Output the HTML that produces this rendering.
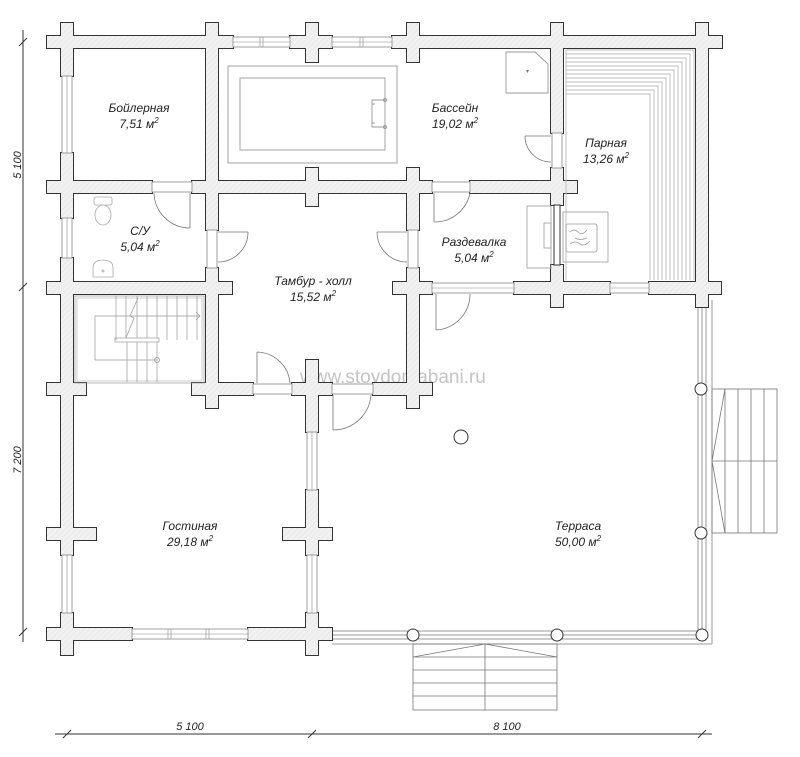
<!DOCTYPE html>
<html><head><meta charset="utf-8"><style>
html,body{margin:0;padding:0;background:#fff;}
svg{display:block;}
text{font-family:"Liberation Sans",sans-serif;font-style:italic;font-size:12px;fill:#222;}
</style></head><body>
<svg width="800" height="757" viewBox="0 0 800 757" xmlns="http://www.w3.org/2000/svg">
<defs>
<pattern id="h" width="4" height="4" patternUnits="userSpaceOnUse" patternTransform="rotate(45)">
<rect width="4" height="4" fill="#f1f1f1"/><line x1="0" y1="0" x2="0" y2="4" stroke="#e2e2e2" stroke-width="1"/>
</pattern>
</defs>

<text x="300" y="383" style="font-style:normal;font-size:19px;fill:#c4c4c4">www.stoydomabani.ru</text>

<g fill="none" stroke="#999" stroke-width="1">
<line x1="698" y1="307" x2="698" y2="634"/><line x1="702" y1="307" x2="702" y2="634"/><line x1="706" y1="307" x2="706" y2="634"/>
<line x1="712" y1="300" x2="712" y2="644"/>
<line x1="319" y1="631" x2="702" y2="631"/><line x1="319" y1="635" x2="702" y2="635"/><line x1="319" y1="639" x2="702" y2="639"/>
<line x1="332" y1="644" x2="712" y2="644"/>
</g>
<g fill="none" stroke="#777" stroke-width="0.8">
<rect x="712" y="389" width="65" height="144"/>
<line x1="725" y1="389" x2="725" y2="533"/><line x1="738" y1="389" x2="738" y2="533"/><line x1="751" y1="389" x2="751" y2="533"/><line x1="764" y1="389" x2="764" y2="533"/>
<line x1="712" y1="461" x2="777" y2="461"/>
<polyline points="725,389 712,461 725,533"/>
</g>
<g fill="none" stroke="#777" stroke-width="0.8">
<rect x="413" y="644" width="144" height="66"/>
<line x1="413" y1="657" x2="557" y2="657"/><line x1="413" y1="670" x2="557" y2="670"/><line x1="413" y1="683" x2="557" y2="683"/><line x1="413" y1="696" x2="557" y2="696"/>
<line x1="485" y1="644" x2="485" y2="710"/>
<polyline points="413,657 485,644 557,657"/>
</g>
<g fill="#fff" stroke="#333" stroke-width="1">
<circle cx="701" cy="389" r="6"/><circle cx="701" cy="533" r="6"/>
<circle cx="413" cy="635" r="6"/><circle cx="557" cy="635" r="6"/><circle cx="702" cy="635" r="6"/>
<circle cx="461" cy="437" r="7"/>
</g>

<g stroke="#333" stroke-width="2" fill="#333">
<rect x="47" y="36" width="186" height="12"/><rect x="290" y="36" width="42" height="12"/><rect x="392" y="36" width="330" height="12"/>
<rect x="61" y="23" width="12" height="53"/><rect x="206" y="23" width="12" height="207"/><rect x="306" y="23" width="12" height="39"/><rect x="407" y="23" width="12" height="39"/><rect x="551" y="23" width="12" height="110"/><rect x="696" y="23" width="12" height="284"/>
<rect x="61" y="153" width="12" height="65"/><rect x="61" y="258" width="12" height="297"/><rect x="61" y="613" width="12" height="42"/>
<rect x="47" y="181" width="105" height="12"/><rect x="192" y="181" width="240" height="12"/><rect x="470" y="181" width="107" height="12"/>
<rect x="407" y="168" width="12" height="62"/><rect x="551" y="168" width="12" height="37"/><rect x="306" y="168" width="12" height="38"/>
<rect x="47" y="282" width="185" height="12"/><rect x="206" y="268" width="12" height="140"/><rect x="393" y="282" width="39" height="12"/><rect x="407" y="268" width="12" height="140"/><rect x="514" y="282" width="96" height="12"/><rect x="551" y="265" width="12" height="42"/><rect x="649" y="282" width="72" height="12"/>
<rect x="47" y="383" width="39" height="12"/><rect x="192" y="383" width="61" height="12"/><rect x="292" y="383" width="40" height="12"/><rect x="306" y="360" width="12" height="72"/><rect x="373" y="383" width="59" height="12"/>
<rect x="306" y="490" width="12" height="65"/><rect x="283" y="528" width="49" height="12"/><rect x="306" y="613" width="12" height="42"/>
<rect x="47" y="528" width="49" height="12"/>
<rect x="47" y="628" width="85" height="12"/><rect x="248" y="628" width="84" height="12"/>
</g>
<g stroke="none" fill="url(#h)">
<rect x="47" y="36" width="186" height="12"/><rect x="290" y="36" width="42" height="12"/><rect x="392" y="36" width="330" height="12"/>
<rect x="61" y="23" width="12" height="53"/><rect x="206" y="23" width="12" height="207"/><rect x="306" y="23" width="12" height="39"/><rect x="407" y="23" width="12" height="39"/><rect x="551" y="23" width="12" height="110"/><rect x="696" y="23" width="12" height="284"/>
<rect x="61" y="153" width="12" height="65"/><rect x="61" y="258" width="12" height="297"/><rect x="61" y="613" width="12" height="42"/>
<rect x="47" y="181" width="105" height="12"/><rect x="192" y="181" width="240" height="12"/><rect x="470" y="181" width="107" height="12"/>
<rect x="407" y="168" width="12" height="62"/><rect x="551" y="168" width="12" height="37"/><rect x="306" y="168" width="12" height="38"/>
<rect x="47" y="282" width="185" height="12"/><rect x="206" y="268" width="12" height="140"/><rect x="393" y="282" width="39" height="12"/><rect x="407" y="268" width="12" height="140"/><rect x="514" y="282" width="96" height="12"/><rect x="551" y="265" width="12" height="42"/><rect x="649" y="282" width="72" height="12"/>
<rect x="47" y="383" width="39" height="12"/><rect x="192" y="383" width="61" height="12"/><rect x="292" y="383" width="40" height="12"/><rect x="306" y="360" width="12" height="72"/><rect x="373" y="383" width="59" height="12"/>
<rect x="306" y="490" width="12" height="65"/><rect x="283" y="528" width="49" height="12"/><rect x="306" y="613" width="12" height="42"/>
<rect x="47" y="528" width="49" height="12"/>
<rect x="47" y="628" width="85" height="12"/><rect x="248" y="628" width="84" height="12"/>
</g>

<g fill="#fff" stroke="#888" stroke-width="0.8">
<rect x="233" y="37" width="57" height="10"/><rect x="332" y="37" width="60" height="10"/>
<rect x="62" y="76" width="10" height="77"/><rect x="62" y="218" width="10" height="40"/><rect x="62" y="555" width="10" height="58"/>
<rect x="152" y="182" width="40" height="10"/><rect x="432" y="182" width="38" height="10"/>
<rect x="207" y="230" width="10" height="38"/><rect x="408" y="230" width="10" height="38"/><rect x="552" y="133" width="10" height="35"/>
<rect x="432" y="283" width="82" height="10"/><rect x="610" y="283" width="39" height="10"/>
<rect x="253" y="384" width="39" height="10"/><rect x="332" y="384" width="41" height="10"/>
<rect x="307" y="432" width="10" height="58"/><rect x="307" y="555" width="10" height="58"/>
<rect x="132" y="629" width="116" height="10"/>
</g>
<g stroke="#888" stroke-width="0.6">
<line x1="233" y1="42" x2="290" y2="42"/><line x1="332" y1="42" x2="392" y2="42"/>
<line x1="67" y1="76" x2="67" y2="153"/><line x1="67" y1="218" x2="67" y2="258"/><line x1="67" y1="555" x2="67" y2="613"/>
<line x1="312" y1="432" x2="312" y2="490"/><line x1="312" y1="555" x2="312" y2="613"/>
<line x1="132" y1="634" x2="248" y2="634"/><line x1="432" y1="288" x2="514" y2="288"/><line x1="610" y1="288" x2="649" y2="288"/>
<line x1="260" y1="37" x2="260" y2="47"/><line x1="263" y1="37" x2="263" y2="47"/><line x1="360" y1="37" x2="360" y2="47"/><line x1="363" y1="37" x2="363" y2="47"/>
<line x1="168" y1="629" x2="168" y2="639"/><line x1="171" y1="629" x2="171" y2="639"/><line x1="206" y1="629" x2="206" y2="639"/><line x1="209" y1="629" x2="209" y2="639"/>
</g>

<g fill="none" stroke="#777" stroke-width="0.8">
<path d="M190 193 V228 M154 193 A36 36 0 0 0 190 228"/>
<path d="M218 232 H248 M248 232 A30 30 0 0 1 218 262"/>
<path d="M407 232 H377 M377 232 A30 30 0 0 0 407 262"/>
<path d="M551 136 H525 M525 136 A26 26 0 0 0 551 162"/>
<path d="M434 193 V222 M434 222 A36 36 0 0 0 470 193"/>
<path d="M436 294 V330 M436 330 A36 36 0 0 0 470 294"/>
<path d="M257 352 V383 M257 352 A34 34 0 0 1 290 383"/>
<path d="M333 395 V430 M333 430 A38 38 0 0 0 371 395"/>
</g>

<g fill="none" stroke="#999" stroke-width="0.9">
<rect x="228" y="66" width="169" height="97"/>
<rect x="240" y="78" width="145" height="72"/>
<path d="M385 100 H372 V127 H385 M372 104 H375 M372 123 H375"/>
<circle cx="385" cy="100" r="1.5"/><circle cx="385" cy="127" r="1.5"/>
<path d="M506 52 H535 L548 64 V93 H506 Z"/>
</g>
<text x="526" y="73" style="font-size:6px;font-style:normal;fill:#777">▾</text>

<g fill="none" stroke="#bbb" stroke-width="0.9">
<polyline points="566,50 694,50 694,280"/><polyline points="566,54 690,54 690,280"/><polyline points="566,58 686,58 686,280"/><polyline points="566,62 682,62 682,280"/>
<polyline points="566,66 678,66 678,280"/><polyline points="566,70 674,70 674,280"/><polyline points="566,74 670,74 670,280"/><polyline points="566,78 666,78 666,280"/>
<polyline points="566,82 662,82 662,280"/><polyline points="566,86 658,86 658,280"/><polyline points="566,90 654,90 654,280"/><polyline points="566,94 650,94 650,280"/>
<line x1="566" y1="50" x2="566" y2="280"/>
</g>
<g fill="none" stroke="#999" stroke-width="0.8">
<rect x="527" y="206" width="24" height="62"/>
<rect x="563" y="212" width="45" height="50"/>
<rect x="544" y="223" width="7" height="25"/>
<rect x="566" y="224" width="31" height="28" rx="2"/>
<path d="M570 232 q4 -4 8 0 q4 4 9 -2 M570 244 q5 -4 10 0 q4 3 10 -3 M575 238 q5 3 12 0"/>
</g>
<g fill="#fff" stroke="#333" stroke-width="1"><rect x="554" y="205" width="6" height="60"/></g>

<g fill="none" stroke="#aaa" stroke-width="0.8">
<rect x="94" y="197" width="18" height="8" rx="2"/>
<ellipse cx="103" cy="215" rx="8" ry="10"/>
<path d="M93 277 V268 Q93 260 103 260 Q113 260 113 268 V277 Z"/>
<circle cx="103" cy="271" r="1"/>
</g>

<g fill="none" stroke="#999" stroke-width="0.7">
<rect x="75" y="296" width="129" height="87"/>
<rect x="77" y="298" width="125" height="83" stroke="#bbb"/>
<line x1="116" y1="296" x2="116" y2="340"/>
<rect x="115" y="338" width="44" height="4"/>
<line x1="157" y1="342" x2="157" y2="382"/>
<line x1="126" y1="296" x2="126" y2="338"/><line x1="137" y1="296" x2="137" y2="338"/><line x1="147" y1="296" x2="147" y2="338"/><line x1="157" y1="296" x2="157" y2="338"/><line x1="167" y1="296" x2="167" y2="340"/><line x1="177" y1="296" x2="177" y2="340"/><line x1="187" y1="296" x2="187" y2="340"/><line x1="197" y1="296" x2="197" y2="340"/>
<line x1="127" y1="342" x2="127" y2="382"/><line x1="137" y1="342" x2="137" y2="382"/><line x1="147" y1="342" x2="147" y2="382"/>
<polyline points="95,360 95,316 200,316"/><path d="M196 312 L200 316 L196 320"/>
<polyline points="95,360 157,360"/><circle cx="157" cy="360" r="2.5"/>
<path d="M138 298 L130 316 L134 318 L126 338"/>
</g>

<g stroke="#333" stroke-width="1" fill="none">
<line x1="23" y1="30" x2="23" y2="642"/>
<line x1="19" y1="46" x2="27" y2="38"/><line x1="19" y1="291" x2="27" y2="283"/><line x1="19" y1="636" x2="27" y2="628"/>
<line x1="55" y1="734" x2="712" y2="734"/>
<line x1="63" y1="738" x2="71" y2="730"/><line x1="308" y1="738" x2="316" y2="730"/><line x1="698" y1="738" x2="706" y2="730"/>
</g>
<text x="0" y="0" transform="translate(21,165) rotate(-90)" text-anchor="middle" style="font-size:11px">5 100</text>
<text x="0" y="0" transform="translate(21,460) rotate(-90)" text-anchor="middle" style="font-size:11px">7 200</text>
<text x="190" y="730" text-anchor="middle" style="font-size:11px">5 100</text>
<text x="507" y="730" text-anchor="middle" style="font-size:11px">8 100</text>

<g text-anchor="middle">
<text x="139" y="112">Бойлерная</text><text x="139" y="128">7,51 м<tspan dy="-5" font-size="8">2</tspan></text>
<text x="455" y="112">Бассейн</text><text x="455" y="128">19,02 м<tspan dy="-5" font-size="8">2</tspan></text>
<text x="606" y="147">Парная</text><text x="606" y="163">13,26 м<tspan dy="-5" font-size="8">2</tspan></text>
<text x="140" y="235">С/У</text><text x="140" y="251">5,04 м<tspan dy="-5" font-size="8">2</tspan></text>
<text x="474" y="246">Раздевалка</text><text x="474" y="262">5,04 м<tspan dy="-5" font-size="8">2</tspan></text>
<text x="313" y="285">Тамбур - холл</text><text x="313" y="301">15,52 м<tspan dy="-5" font-size="8">2</tspan></text>
<text x="190" y="530">Гостиная</text><text x="190" y="546">29,18 м<tspan dy="-5" font-size="8">2</tspan></text>
<text x="578" y="530">Терраса</text><text x="578" y="546">50,00 м<tspan dy="-5" font-size="8">2</tspan></text>
</g>
</svg>
</body></html>
